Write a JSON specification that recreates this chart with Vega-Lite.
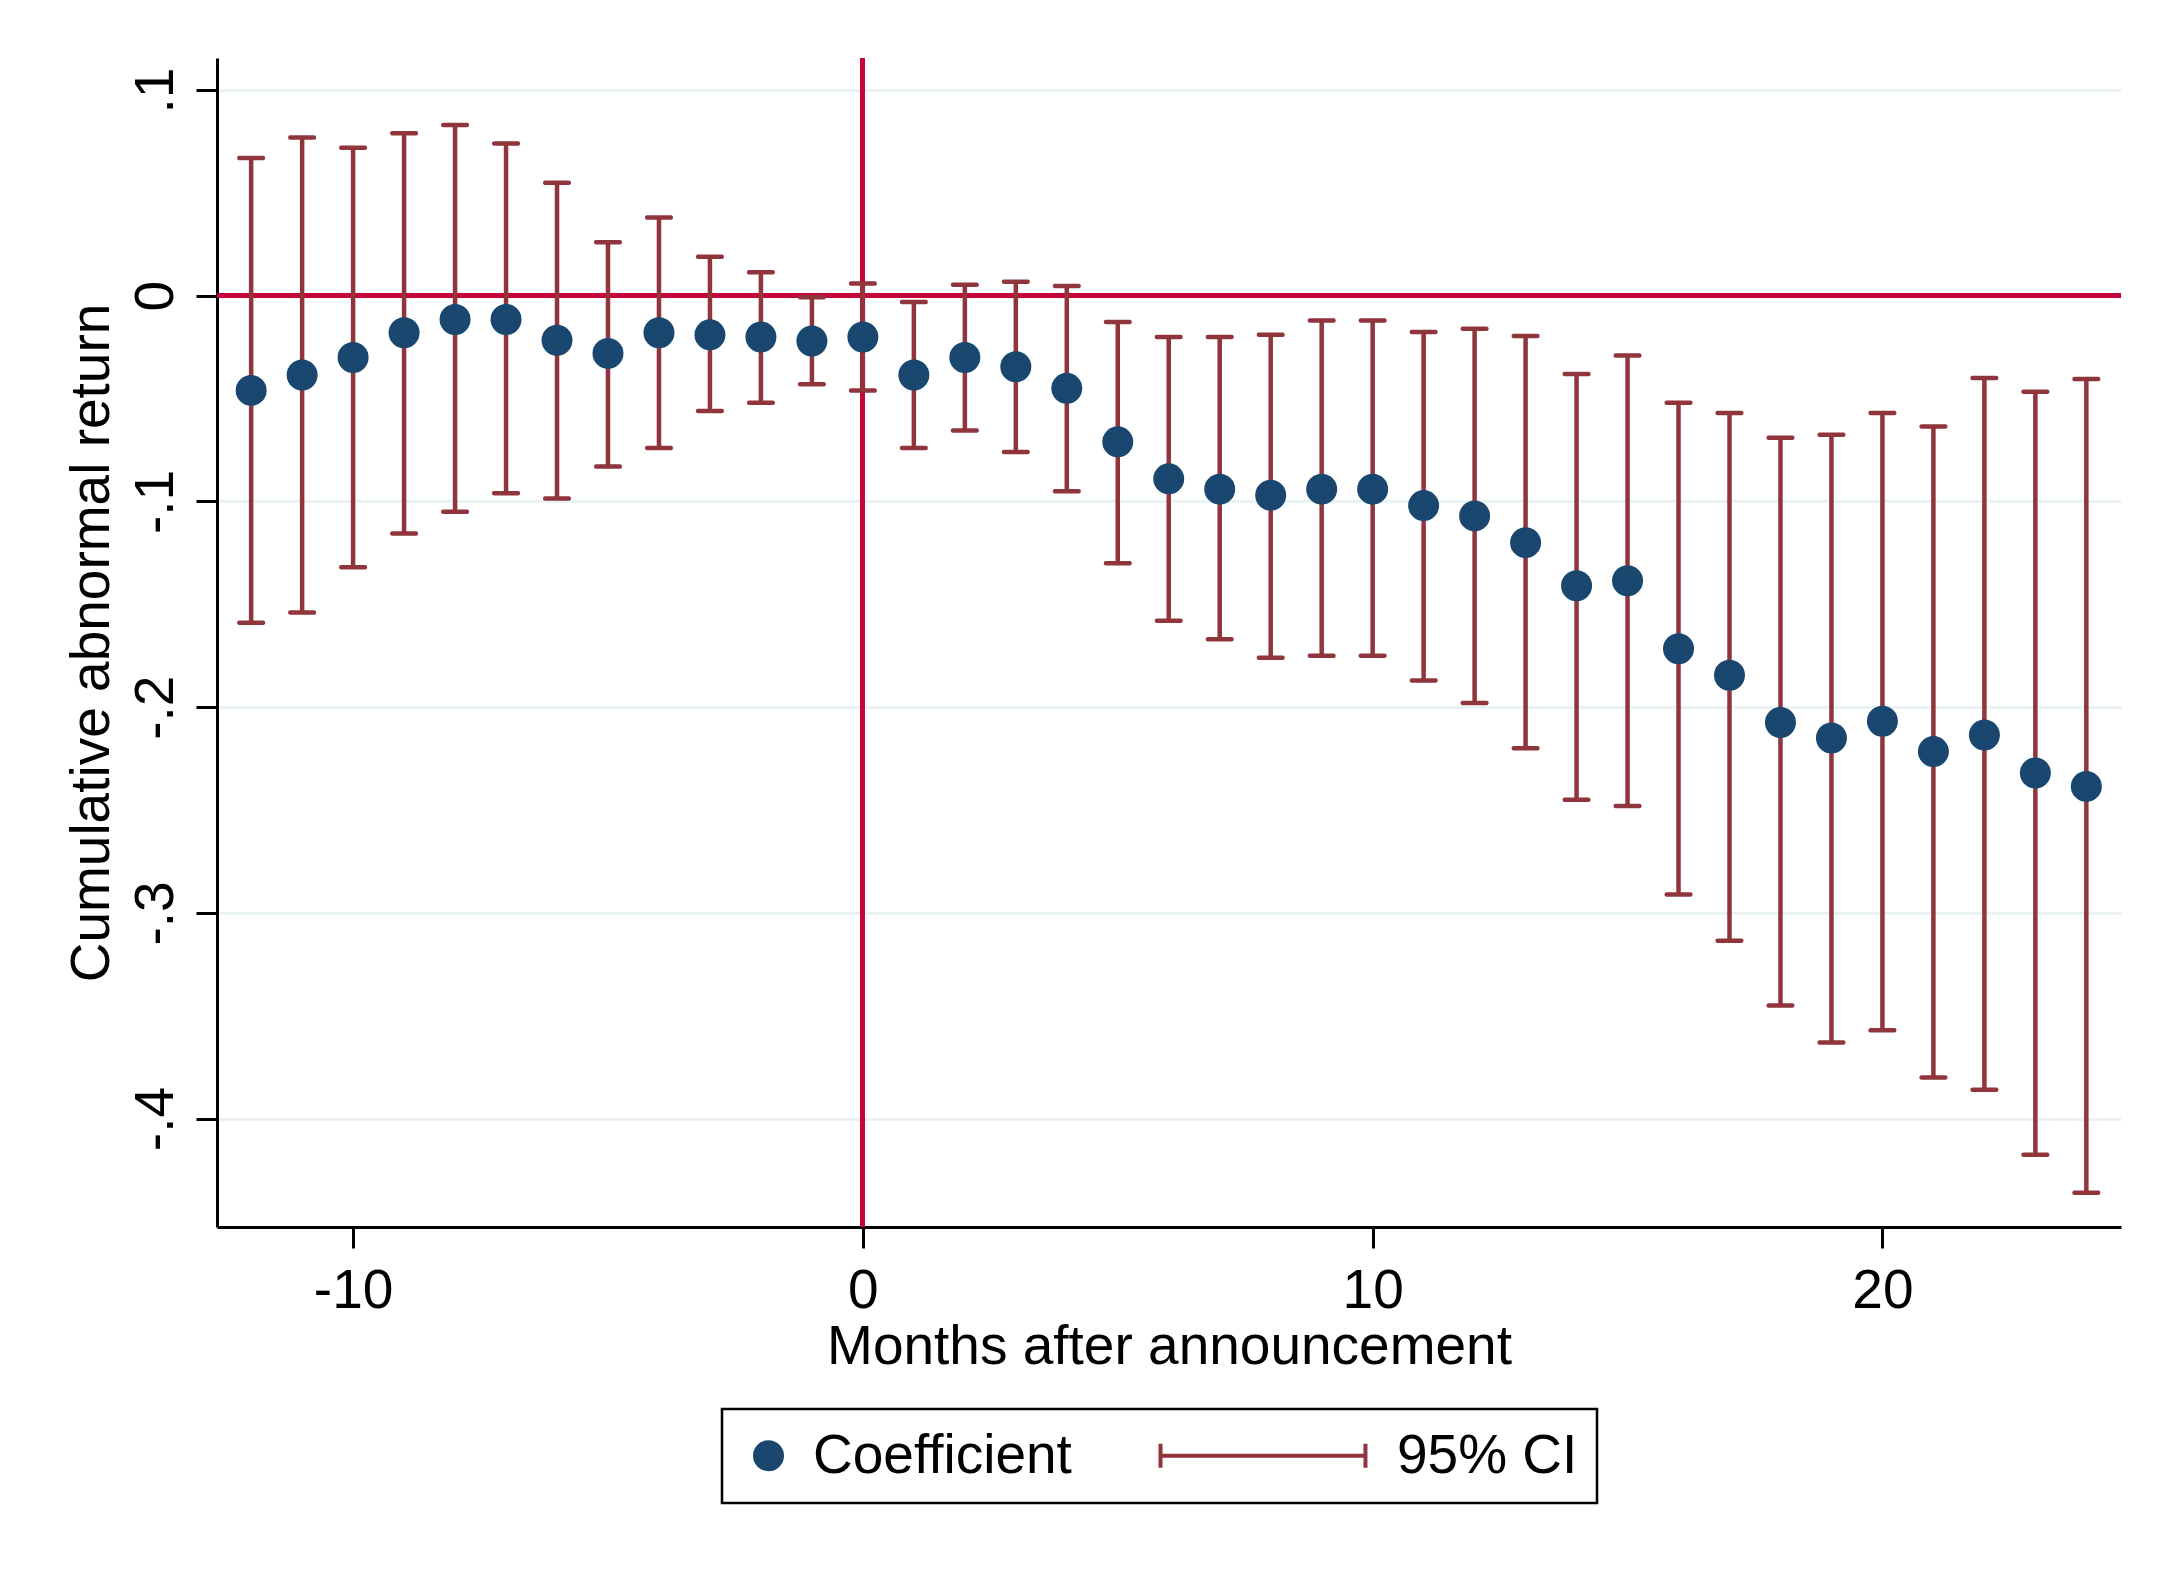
{
  "$schema": "https://vega.github.io/schema/vega-lite/v6.json",
  "width": 1904,
  "height": 1169,
  "autosize": "none",
  "padding": {"left": 217, "top": 58, "right": 57, "bottom": 357},
  "background": "white",
  "data": {
    "values": [
      {"month": -12, "coef": -0.046, "lo": -0.159, "hi": 0.067, "series": "Coefficient"},
      {"month": -11, "coef": -0.0385, "lo": -0.154, "hi": 0.077, "series": "Coefficient"},
      {"month": -10, "coef": -0.03, "lo": -0.132, "hi": 0.072, "series": "Coefficient"},
      {"month": -9, "coef": -0.018, "lo": -0.1155, "hi": 0.079, "series": "Coefficient"},
      {"month": -8, "coef": -0.0115, "lo": -0.105, "hi": 0.083, "series": "Coefficient"},
      {"month": -7, "coef": -0.0115, "lo": -0.096, "hi": 0.074, "series": "Coefficient"},
      {"month": -6, "coef": -0.0216, "lo": -0.0986, "hi": 0.055, "series": "Coefficient"},
      {"month": -5, "coef": -0.028, "lo": -0.083, "hi": 0.026, "series": "Coefficient"},
      {"month": -4, "coef": -0.018, "lo": -0.074, "hi": 0.038, "series": "Coefficient"},
      {"month": -3, "coef": -0.019, "lo": -0.056, "hi": 0.019, "series": "Coefficient"},
      {"month": -2, "coef": -0.02, "lo": -0.052, "hi": 0.0115, "series": "Coefficient"},
      {"month": -1, "coef": -0.022, "lo": -0.043, "hi": -0.0007, "series": "Coefficient"},
      {"month": 0, "coef": -0.02, "lo": -0.046, "hi": 0.006, "series": "Coefficient"},
      {"month": 1, "coef": -0.0385, "lo": -0.074, "hi": -0.003, "series": "Coefficient"},
      {"month": 2, "coef": -0.03, "lo": -0.0655, "hi": 0.0054, "series": "Coefficient"},
      {"month": 3, "coef": -0.0345, "lo": -0.076, "hi": 0.0068, "series": "Coefficient"},
      {"month": 4, "coef": -0.045, "lo": -0.095, "hi": 0.0047, "series": "Coefficient"},
      {"month": 5, "coef": -0.071, "lo": -0.13, "hi": -0.0128, "series": "Coefficient"},
      {"month": 6, "coef": -0.089, "lo": -0.158, "hi": -0.02, "series": "Coefficient"},
      {"month": 7, "coef": -0.094, "lo": -0.167, "hi": -0.02, "series": "Coefficient"},
      {"month": 8, "coef": -0.097, "lo": -0.176, "hi": -0.019, "series": "Coefficient"},
      {"month": 9, "coef": -0.094, "lo": -0.175, "hi": -0.012, "series": "Coefficient"},
      {"month": 10, "coef": -0.094, "lo": -0.175, "hi": -0.012, "series": "Coefficient"},
      {"month": 11, "coef": -0.102, "lo": -0.187, "hi": -0.0176, "series": "Coefficient"},
      {"month": 12, "coef": -0.107, "lo": -0.198, "hi": -0.016, "series": "Coefficient"},
      {"month": 13, "coef": -0.12, "lo": -0.22, "hi": -0.0196, "series": "Coefficient"},
      {"month": 14, "coef": -0.141, "lo": -0.245, "hi": -0.038, "series": "Coefficient"},
      {"month": 15, "coef": -0.1385, "lo": -0.248, "hi": -0.029, "series": "Coefficient"},
      {"month": 16, "coef": -0.1716, "lo": -0.291, "hi": -0.052, "series": "Coefficient"},
      {"month": 17, "coef": -0.1845, "lo": -0.3135, "hi": -0.057, "series": "Coefficient"},
      {"month": 18, "coef": -0.2074, "lo": -0.345, "hi": -0.069, "series": "Coefficient"},
      {"month": 19, "coef": -0.215, "lo": -0.363, "hi": -0.0676, "series": "Coefficient"},
      {"month": 20, "coef": -0.2068, "lo": -0.357, "hi": -0.057, "series": "Coefficient"},
      {"month": 21, "coef": -0.2216, "lo": -0.38, "hi": -0.0635, "series": "Coefficient"},
      {"month": 22, "coef": -0.2135, "lo": -0.386, "hi": -0.04, "series": "Coefficient"},
      {"month": 23, "coef": -0.232, "lo": -0.4176, "hi": -0.0466, "series": "Coefficient"},
      {"month": 24, "coef": -0.2385, "lo": -0.436, "hi": -0.0405, "series": "Coefficient"}
    ]
  },
  "layer": [
    {
      "mark": {"type": "rule", "color": "#C4063A", "strokeWidth": 4},
      "encoding": {"y": {"datum": 0, "type": "quantitative"}}
    },
    {
      "mark": {"type": "rule", "color": "#C4063A", "strokeWidth": 4},
      "encoding": {"x": {"datum": 0, "type": "quantitative"}}
    },
    {
      "mark": {"type": "rule", "color": "#90353B", "strokeWidth": 4.5},
      "encoding": {
        "x": {
          "field": "month",
          "type": "quantitative",
          "title": "Months after announcement",
          "scale": {"domain": [-12.67, 24.68], "nice": false, "zero": false},
          "axis": {
            "values": [-10, 0, 10, 20],
            "grid": false,
            "labelPadding": 16,
            "titlePadding": 2,
            "labelExpr": "(datum.value < 0 ? '-' : '') + format(abs(datum.value), 'd')"
          }
        },
        "y": {
          "field": "lo",
          "type": "quantitative",
          "title": "Cumulative abnormal return",
          "scale": {"domain": [-0.4527, 0.1156], "nice": false, "zero": false},
          "axis": {
            "values": [0.1, 0, -0.1, -0.2, -0.3, -0.4],
            "grid": true,
            "gridColor": "#EAF2F3",
            "gridWidth": 3,
            "labelAngle": -90,
            "labelAlign": "center",
            "labelBaseline": "alphabetic",
            "labelPadding": 24,
            "titlePadding": 8,
            "labelExpr": "datum.value == 0 ? '0' : (datum.value < 0 ? '-' : '') + replace(format(abs(datum.value), '.1f'), '0.', '.')"
          }
        },
        "y2": {"field": "hi"}
      }
    },
    {
      "mark": {"type": "tick", "orient": "horizontal", "color": "#90353B", "size": 28, "thickness": 4.5, "opacity": 1, "cornerRadius": 2},
      "encoding": {
        "x": {"field": "month", "type": "quantitative", "title": "Months after announcement"},
        "y": {"field": "lo", "type": "quantitative", "title": "Cumulative abnormal return"}
      }
    },
    {
      "mark": {"type": "tick", "orient": "horizontal", "color": "#90353B", "size": 28, "thickness": 4.5, "opacity": 1, "cornerRadius": 2},
      "encoding": {
        "x": {"field": "month", "type": "quantitative", "title": "Months after announcement"},
        "y": {"field": "hi", "type": "quantitative", "title": "Cumulative abnormal return"}
      }
    },
    {
      "mark": {"type": "point", "filled": true, "opacity": 1, "size": 729, "strokeWidth": 4},
      "encoding": {
        "x": {"field": "month", "type": "quantitative", "title": "Months after announcement"},
        "y": {"field": "coef", "type": "quantitative", "title": "Cumulative abnormal return"},
        "fill": {
          "field": "series",
          "type": "nominal",
          "scale": {"domain": ["Coefficient", "95% CI"], "range": ["#1A476F", "transparent"]},
          "legend": {
            "title": null,
            "orient": "none",
            "legendX": 505,
            "legendY": 1351,
            "direction": "horizontal",
            "labelFont": "Liberation Sans",
            "labelFontSize": 55,
            "labelColor": "black",
            "labelLimit": 1000,
            "labelOffset": 17,
            "symbolSize": 729,
            "symbolStrokeWidth": 4,
            "columnPadding": 80,
            "padding": 19,
            "strokeColor": "black"
          }
        },
        "stroke": {
          "field": "series",
          "type": "nominal",
          "scale": {"domain": ["Coefficient", "95% CI"], "range": ["#1A476F", "#90353B"]},
          "legend": {
            "title": null,
            "orient": "none",
            "legendX": 505,
            "legendY": 1351,
            "direction": "horizontal",
            "labelFont": "Liberation Sans",
            "labelFontSize": 55,
            "labelColor": "black",
            "labelLimit": 1000,
            "labelOffset": 17,
            "symbolSize": 729,
            "symbolStrokeWidth": 4,
            "columnPadding": 80,
            "padding": 19,
            "strokeColor": "black"
          }
        },
        "shape": {
          "field": "series",
          "type": "nominal",
          "scale": {
            "domain": ["Coefficient", "95% CI"],
            "range": ["circle", "M-14.22,0H0.96M-14.22,-0.89V0.89M0.96,-0.89V0.89"]
          },
          "legend": {
            "title": null,
            "orient": "none",
            "legendX": 505,
            "legendY": 1351,
            "direction": "horizontal",
            "labelFont": "Liberation Sans",
            "labelFontSize": 55,
            "labelColor": "black",
            "labelLimit": 1000,
            "labelOffset": 17,
            "symbolSize": 729,
            "symbolStrokeWidth": 4,
            "columnPadding": 80,
            "padding": 19,
            "strokeColor": "black"
          }
        }
      }
    }
  ],
  "config": {
    "view": {"stroke": null},
    "legend": {"strokeWidth": 2.5},
    "axis": {
      "domainColor": "black",
      "domainWidth": 3,
      "tickColor": "black",
      "tickWidth": 3,
      "tickSize": 21,
      "labelFont": "Liberation Sans",
      "labelFontSize": 55,
      "labelColor": "black",
      "titleFont": "Liberation Sans",
      "titleFontSize": 55,
      "titleFontWeight": "normal",
      "titleColor": "black"
    }
  }
}
